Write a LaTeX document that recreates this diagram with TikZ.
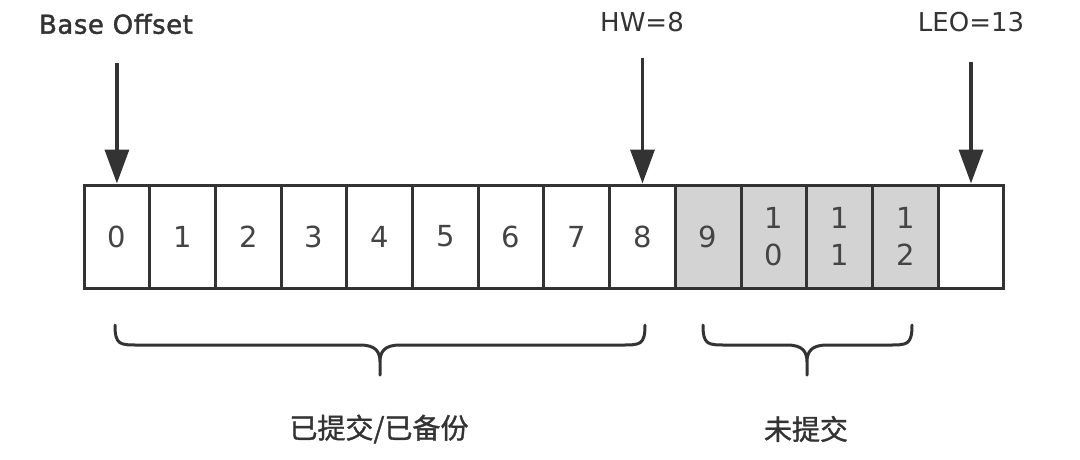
\documentclass[tikz,border=0pt]{standalone}
\usepackage{fontspec}
\setmainfont{DejaVu Sans}
\newfontfamily\cjk[FakeBold=1.2]{Noto Sans CJK SC}
\newfontfamily\basefont[FakeBold=1.6,LetterSpace=2]{DejaVu Sans}
\usetikzlibrary{arrows.meta}
\definecolor{ink}{HTML}{333333}
\definecolor{digit}{HTML}{444444}
\definecolor{cellgray}{HTML}{D3D3D3}
\begin{document}
\begin{tikzpicture}[x=1pt,y=-1pt,
  cellbox/.style={draw=ink, line width=3pt, minimum width=65.7pt, minimum height=103pt,
    inner sep=0pt, text=digit, align=center, font=\fontsize{29}{37}\selectfont},
  toplabel/.style={text=ink, inner sep=0pt, font=\fontsize{26}{30}\selectfont},
  bottomlabel/.style={text=ink, inner sep=0pt, font=\cjk\fontsize{28}{32}\selectfont},
  pointer/.style={draw=ink, line width=3.5pt, -{Triangle[width=24pt,length=34pt]}},
  bracepath/.style={draw=ink, line width=3pt, line cap=round, line join=round}]
\useasboundingbox (0,0) rectangle (1080,459);
% cells
\node[cellbox] (c0) at (116.9,236.5) {0};
\node[cellbox] (c1) at (182.6,236.5) {1};
\node[cellbox] (c2) at (248.3,236.5) {2};
\node[cellbox] (c3) at (314.0,236.5) {3};
\node[cellbox] (c4) at (379.7,236.5) {4};
\node[cellbox] (c5) at (445.4,236.5) {5};
\node[cellbox] (c6) at (511.1,236.5) {6};
\node[cellbox] (c7) at (576.8,236.5) {7};
\node[cellbox] (c8) at (642.5,236.5) {8};
\node[cellbox, fill=cellgray] (c9) at (708.2,236.5) {9};
\node[cellbox, fill=cellgray] (c10) at (773.9,236.5) {1\\0};
\node[cellbox, fill=cellgray] (c11) at (839.6,236.5) {1\\1};
\node[cellbox, fill=cellgray] (c12) at (905.3,236.5) {1\\2};
\node[cellbox] (c13) at (971.0,236.5) {};
% top labels
\node[toplabel, font=\basefont\fontsize{26}{30}\selectfont] (lbase) at (116,24) {Base Offset};
\node[toplabel] (lhw) at (642,22) {HW=8};
\node[toplabel] (lleo) at (971,22) {LEO=13};
\coordinate (sbase) at (116.9,63);
\coordinate (shw) at (642.5,58);
\coordinate (sleo) at (971.0,62);
\draw[pointer] (sbase) -- (c0.north);
\draw[pointer] (shw) -- (c8.north);
\draw[pointer] (sleo) -- (c13.north);
% braces
\coordinate (b1l) at (115,325);
\coordinate (b1t) at (380,375);
\coordinate (b1r) at (645,325);
\draw[bracepath] (b1l) .. controls (115,345) and (120,345) .. (138,345) -- (360,345)
  .. controls (376,345) and (380,352) .. (380,362) -- (b1t)
  (380,362) .. controls (380,352) and (384,345) .. (400,345) -- (622,345)
  .. controls (640,345) and (645,345) .. (b1r);
\coordinate (b2l) at (703,325);
\coordinate (b2t) at (807,375);
\coordinate (b2r) at (912,325);
\draw[bracepath] (b2l) .. controls (703,345) and (708,345) .. (726,345) -- (787,345)
  .. controls (803,345) and (807,352) .. (807,362) -- (b2t)
  (807,362) .. controls (807,352) and (811,345) .. (827,345) -- (889,345)
  .. controls (907,345) and (912,345) .. (b2r);
% bottom labels
\node[bottomlabel] (lcommit) at (379,429) {已提交/已备份};
\node[bottomlabel] (lnot) at (806,429) {未提交};
\end{tikzpicture}
\end{document}
